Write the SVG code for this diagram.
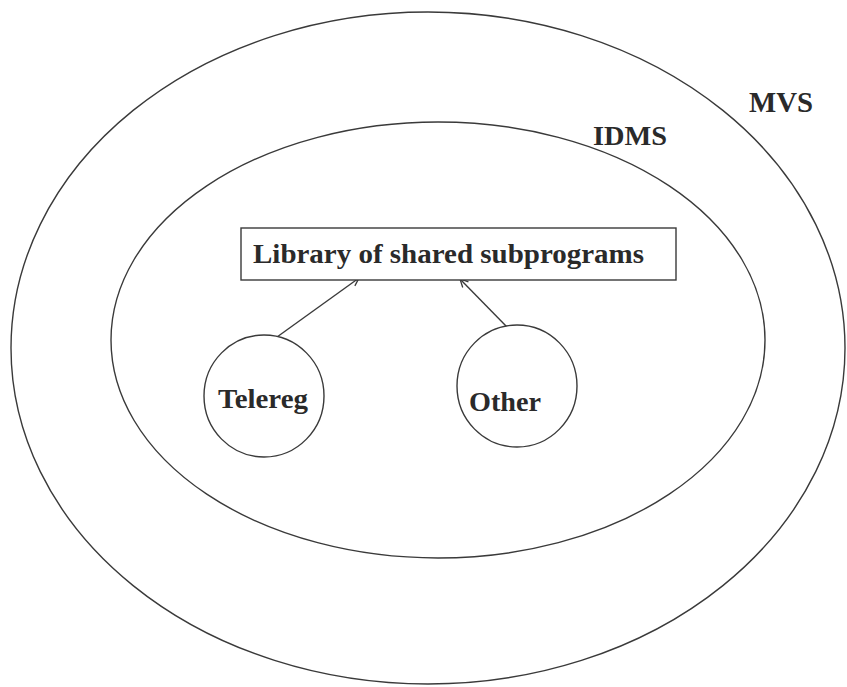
<svg xmlns="http://www.w3.org/2000/svg" width="847" height="687" viewBox="0 0 847 687">
  <style>
    .ln { fill: none; stroke: #3a3a3a; stroke-width: 1.4; }
    .node { fill: #ffffff; stroke: #3a3a3a; stroke-width: 1.4; }
    .lbl { font-family: "Liberation Serif", "Times New Roman", Times, serif; font-weight: bold; fill: #2a2a2a; }
  </style>
  <defs>
    <marker id="arr" viewBox="0 0 10 10" refX="9" refY="5" markerWidth="10" markerHeight="10" markerUnits="userSpaceOnUse" orient="auto">
      <path d="M1,1 L9,5 L1,9" fill="none" stroke="#3a3a3a" stroke-width="1.3"/>
    </marker>
  </defs>
  <rect width="847" height="687" fill="#ffffff"/>

  <g id="mvs">
    <ellipse class="ln" cx="428" cy="348" rx="417" ry="336"/>
    <text class="lbl" x="749" y="112" font-size="29" textLength="64" lengthAdjust="spacingAndGlyphs">MVS</text>
  </g>

  <g id="idms">
    <ellipse class="ln" cx="438" cy="340" rx="327" ry="218"/>
    <text class="lbl" x="593" y="145" font-size="27" textLength="74" lengthAdjust="spacingAndGlyphs" fill="#454545">IDMS</text>
  </g>

  <g id="connectors">
    <line class="ln" x1="277" y1="337" x2="359" y2="278" marker-end="url(#arr)"/>
    <line class="ln" x1="507" y1="327" x2="460" y2="279" marker-end="url(#arr)"/>
  </g>

  <g id="library">
    <rect class="node" x="241" y="228" width="435" height="52"/>
    <text class="lbl" x="253" y="263" font-size="27" textLength="391" lengthAdjust="spacingAndGlyphs">Library of shared subprograms</text>
  </g>

  <g id="telereg">
    <ellipse class="node" cx="264" cy="396" rx="60" ry="61"/>
    <text class="lbl" x="218" y="408" font-size="28" textLength="90" lengthAdjust="spacingAndGlyphs">Telereg</text>
  </g>

  <g id="other">
    <ellipse class="node" cx="517" cy="386" rx="60" ry="61"/>
    <text class="lbl" x="469" y="411" font-size="28" textLength="72" lengthAdjust="spacingAndGlyphs">Other</text>
  </g>
</svg>
